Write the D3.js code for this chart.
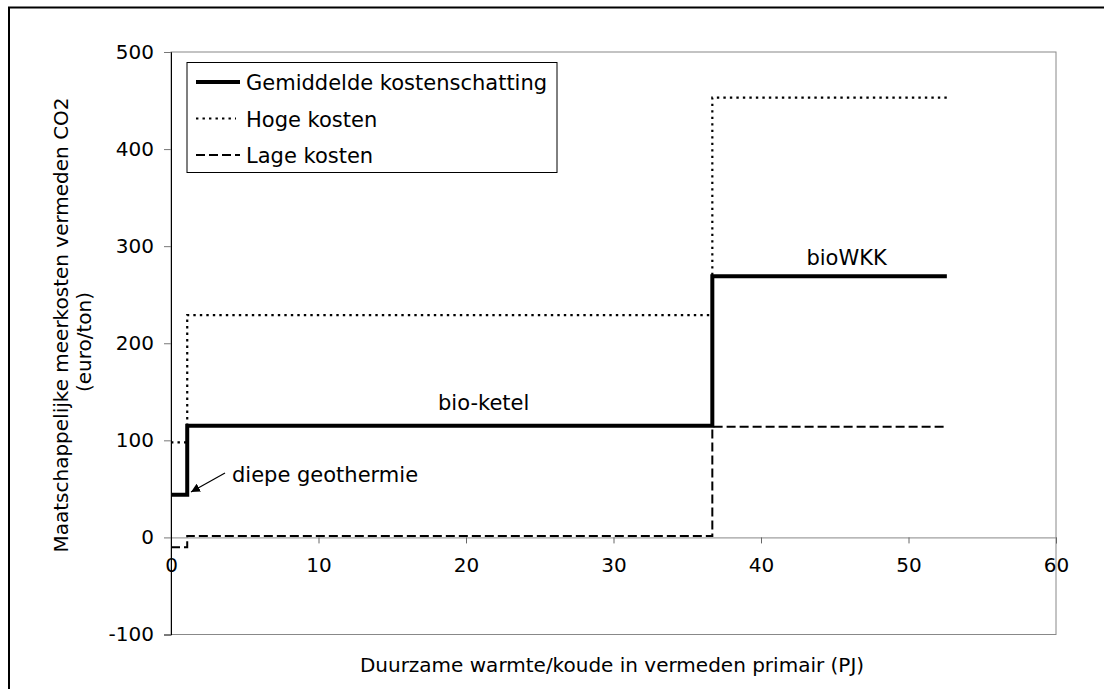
<!DOCTYPE html>
<html>
<head>
<meta charset="utf-8">
<script src="https://cdn.jsdelivr.net/npm/d3@7"></script>
<style>
  html, body { margin: 0; padding: 0; background: #fff; }
  svg { display: block; }
  text { font-family: "DejaVu Sans", Verdana, sans-serif; fill: #000; }
</style>
</head>
<body>
<svg id="chart" width="1104" height="689"></svg>
<script>
// ---- data ----
const stepX = [0, 1.1, 36.7, 52.6];          // PJ breakpoints
const gemiddelde = [44, 115, 269];           // euro/ton, average estimate
const hoge = [98, 229, 453];                 // high cost
const lage = [-10, 1.5, 114];                // low cost
const xTicks = [0, 10, 20, 30, 40, 50, 60];
const yTicks = [-100, 0, 100, 200, 300, 400, 500];
const legendLabels = ["Gemiddelde kostenschatting", "Hoge kosten", "Lage kosten"];
const annotations = [
  { label: "bio-ketel", x: 21.2, y: 131 },
  { label: "bioWKK", x: 45.8, y: 281 }
];
const geoLabel = "diepe geothermie";
const xTitle = "Duurzame warmte/koude in vermeden primair (PJ)";
const yTitle = ["Maatschappelijke meerkosten vermeden CO2", "(euro/ton)"];

// ---- layout ----
const svg = d3.select("#chart");
const L = 171, R = 1056, T = 52, B = 634.5;
const x = d3.scaleLinear().domain([0, 60]).range([L, R]);
const y = d3.scaleLinear().domain([-100, 500]).range([B, T]);

// outer frame
svg.append("rect").attr("x", 9).attr("y", 7.5).attr("width", 1110).attr("height", 700)
  .attr("fill", "none").attr("stroke", "#000").attr("stroke-width", 2);

// plot area border
svg.append("rect").attr("x", L).attr("y", T).attr("width", R - L).attr("height", B - T)
  .attr("fill", "none").attr("stroke", "#888").attr("stroke-width", 1);

// x axis at y=0
const xAxis = svg.append("g").attr("transform", `translate(0,${y(0)})`)
  .call(d3.axisBottom(x).tickValues(xTicks).tickSize(6).tickPadding(14).tickFormat(d => String(d)));
xAxis.select(".domain").attr("stroke", "#888");
xAxis.selectAll(".tick line").attr("stroke", "#666");
xAxis.selectAll(".tick text").attr("font-size", 20).attr("font-family", "DejaVu Sans").attr("fill", "#000");

// y axis
const yAxis = svg.append("g").attr("transform", `translate(${L},0)`)
  .call(d3.axisLeft(y).tickValues(yTicks).tickSize(7).tickPadding(10).tickFormat(d => String(d)));
yAxis.select(".domain").attr("stroke", "#000");
yAxis.selectAll(".tick line").attr("stroke", "#777");
yAxis.selectAll(".tick text").attr("font-size", 20).attr("font-family", "DejaVu Sans").attr("fill", "#000");

// series as step lines
function stepPoints(vals) {
  const pts = vals.map((v, i) => [stepX[i], v]);
  pts.push([stepX[stepX.length - 1], vals[vals.length - 1]]);
  return pts;
}
const line = d3.line().x(d => x(d[0])).y(d => y(d[1])).curve(d3.curveStepAfter);

svg.append("path").attr("d", line(stepPoints(hoge)))
  .attr("fill", "none").attr("stroke", "#000").attr("stroke-width", 2.2).attr("stroke-dasharray", "2.4,4.1");
svg.append("path").attr("d", line(stepPoints(lage)))
  .attr("fill", "none").attr("stroke", "#000").attr("stroke-width", 2).attr("stroke-dasharray", "9,4");
svg.append("path").attr("d", line(stepPoints(gemiddelde)))
  .attr("fill", "none").attr("stroke", "#000").attr("stroke-width", 4);

// annotations
annotations.forEach(a => {
  svg.append("text").attr("x", x(a.x)).attr("y", y(a.y)).attr("text-anchor", "middle")
    .attr("font-size", 21).text(a.label);
});

// diepe geothermie with arrow
svg.append("defs").append("marker").attr("id", "arrow").attr("viewBox", "0 0 10 10")
  .attr("refX", 10).attr("refY", 5).attr("markerWidth", 9).attr("markerHeight", 9)
  .attr("orient", "auto").attr("markerUnits", "userSpaceOnUse")
  .append("path").attr("d", "M0,0 L10,5 L0,10 z").attr("fill", "#000");
svg.append("line").attr("x1", 225).attr("y1", 473).attr("x2", 191).attr("y2", 492)
  .attr("stroke", "#000").attr("stroke-width", 1.2).attr("marker-end", "url(#arrow)");
svg.append("text").attr("x", 232).attr("y", 482).attr("font-size", 21).text(geoLabel);

// legend
const lg = svg.append("g");
lg.append("rect").attr("x", 187).attr("y", 62.5).attr("width", 370).attr("height", 110)
  .attr("fill", "#fff").attr("stroke", "#000").attr("stroke-width", 1);
const legendStyles = [
  { w: 4, dash: null, x2: 240 },
  { w: 2.2, dash: "2.4,4.1", x2: 236 },
  { w: 2, dash: "9,4", x2: 240 }
];
legendLabels.forEach((lab, i) => {
  const cy = 82 + i * 36.5;
  const s = legendStyles[i];
  const l = lg.append("line").attr("x1", 196).attr("x2", s.x2).attr("y1", cy).attr("y2", cy)
    .attr("stroke", "#000").attr("stroke-width", s.w);
  if (s.dash) l.attr("stroke-dasharray", s.dash);
  lg.append("text").attr("x", 246).attr("y", cy + 8).attr("font-size", 21).text(lab);
});

// axis titles
svg.append("text").attr("x", 612).attr("y", 672).attr("text-anchor", "middle")
  .attr("font-family", "DejaVu Sans").attr("font-size", 20).text(xTitle);
svg.append("text").attr("transform", "translate(68,325) rotate(-90)").attr("text-anchor", "middle")
  .attr("font-family", "DejaVu Sans Condensed").attr("font-size", 20).text(yTitle[0]);
svg.append("text").attr("transform", "translate(91,342) rotate(-90)").attr("text-anchor", "middle")
  .attr("font-family", "DejaVu Sans Condensed").attr("font-size", 20).text(yTitle[1]);
</script>
</body>
</html>
